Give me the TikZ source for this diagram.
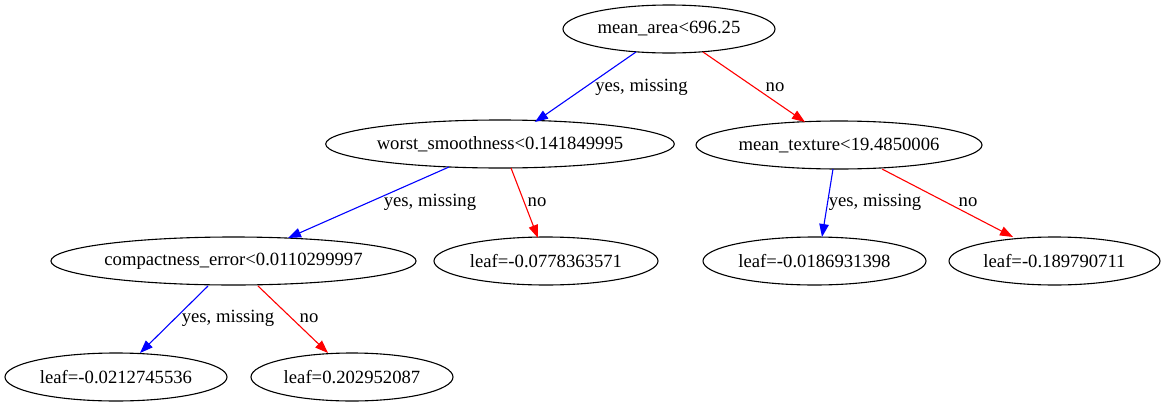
\documentclass[tikz,border=0pt]{standalone}
\usepackage{fontspec}
\setmainfont{Liberation Serif}
\usetikzlibrary{shapes.geometric,arrows.meta,calc}
\definecolor{yesblue}{RGB}{0,0,255}
\definecolor{nored}{RGB}{255,0,0}
\begin{document}
\begin{tikzpicture}[x=1pt,y=-1pt,
  tnode/.style={draw=black,ellipse,line width=1.1pt,inner sep=0pt,minimum height=48pt,font=\fontsize{18.67}{22}\selectfont},
  elabel/.style={inner sep=0pt,font=\fontsize{18.67}{22}\selectfont},
  yesedge/.style={draw=yesblue,line width=1.1pt,-{Triangle[length=13pt,width=9.5pt,fill=yesblue]}},
  noedge/.style={draw=nored,line width=1.1pt,-{Triangle[length=13pt,width=9.5pt,fill=nored]}}]
\useasboundingbox (0,0) rectangle (1165,407);
\fill[white] (0,0) rectangle (1165,407);
\node[tnode,minimum width=212pt] (root) at (669,29) {mean\_area<696.25};
\node[tnode,minimum width=342pt] (ws) at (500,144) {worst\_smoothness<0.141849995};
\node[tnode,minimum width=286pt] (mt) at (839,145) {mean\_texture<19.4850006};
\node[tnode,minimum width=357pt] (ce) at (233.5,261) {compactness\_error<0.0110299997};
\node[tnode,minimum width=224pt] (l1) at (546,261) {leaf=-0.0778363571};
\node[tnode,minimum width=223pt] (l2) at (814.5,261) {leaf=-0.0186931398};
\node[tnode,minimum width=211pt] (l3) at (1054.5,261) {leaf=-0.189790711};
\node[tnode,minimum width=222pt] (l4) at (116,377) {leaf=-0.0212745536};
\node[tnode,minimum width=202pt] (l5) at (352,377) {leaf=0.202952087};
\draw[yesedge] ($(root.center)+(-33,23)$) -- ($(ws.center)+(35,-22)$);
\draw[noedge] ($(root.center)+(34,23)$) -- ($(mt.center)+(-34,-23)$);
\draw[yesedge] ($(ws.center)+(-51,23)$) -- ($(ce.center)+(54.5,-23)$);
\draw[noedge] ($(ws.center)+(11,24)$) -- ($(l1.center)+(-8,-23)$);
\draw[yesedge] ($(mt.center)+(-6,24)$) -- ($(l2.center)+(7.5,-24)$);
\draw[noedge] ($(mt.center)+(43,24)$) -- ($(l3.center)+(-41.5,-24)$);
\draw[yesedge] ($(ce.center)+(-25.5,25)$) -- ($(l4.center)+(24,-24)$);
\draw[noedge] ($(ce.center)+(24.5,25)$) -- ($(l5.center)+(-24,-24)$);
\node[elabel] (e1) at (641.5,87) {yes, missing};
\node[elabel] (e2) at (775,87) {no};
\node[elabel] (e3) at (430,202) {yes, missing};
\node[elabel] (e4) at (537,202) {no};
\node[elabel] (e5) at (875,202) {yes, missing};
\node[elabel] (e6) at (968,202) {no};
\node[elabel] (e7) at (228,318) {yes, missing};
\node[elabel] (e8) at (309,318) {no};
\end{tikzpicture}
\end{document}
